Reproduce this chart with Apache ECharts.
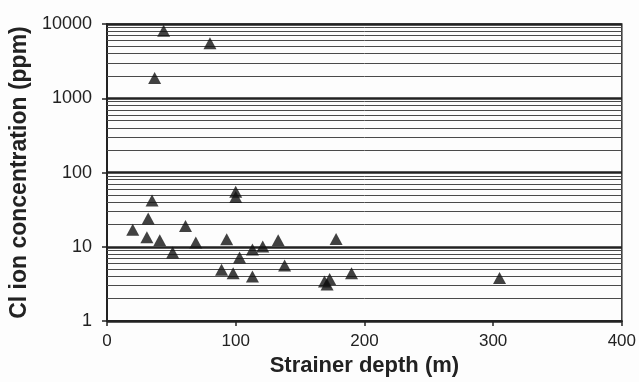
<!DOCTYPE html>
<html>
<head>
<meta charset="utf-8">
<script src="https://cdn.jsdelivr.net/npm/echarts@6/dist/echarts.min.js"></script>
<style>
    html, body { margin: 0; padding: 0; background: #fdfdfd; }
    #chart { width: 639px; height: 382px; }
</style>
</head>
<body>
<div id="chart"></div>
<script>
// strainer depth (m) and Cl concentration (ppm), one triangle per well
var depth = [20, 35, 32, 31, 41, 51, 61, 69, 93, 100, 100, 89, 98, 103, 113, 113, 121, 133, 138,
             178, 169, 173, 171, 190, 305, 44, 80, 37];
var chloride = [17, 42, 24, 13.5, 12.3, 8.4, 19, 11.4, 12.6, 55, 47, 4.9, 4.4, 7.2, 4.0, 9.2, 10.1, 12.3, 5.6,
                12.7, 3.4, 3.7, 3.1, 4.4, 3.8, 8100, 5500, 1870];
// thin log grid lines between the decades
var minorLines = [2, 3, 4, 5, 6, 7, 8, 9,
                  20, 30, 40, 50, 60, 70, 80, 90,
                  200, 300, 400, 500, 600, 700, 800, 900,
                  2000, 3000, 4000, 5000, 6000, 7000, 8000, 9000];
var xTicks = [0, 100, 200, 300, 400];

var points = [];
for (var i = 0; i < depth.length; i++) {
    points.push([depth[i], chloride[i]]);
}
var minorData = [];
for (var j = 0; j < minorLines.length; j++) {
    minorData.push({yAxis: minorLines[j]});
}

var font = 'Liberation Sans, Arial, sans-serif';
var chart = echarts.init(document.getElementById('chart'));
chart.setOption({
    backgroundColor: '#fdfdfd',
    animation: false,
    grid: {
        left: 107, top: 24, width: 515, height: 299,
        show: true, borderColor: '#333', borderWidth: 1.5,
        backgroundColor: 'transparent'
    },
    xAxis: {
        type: 'value',
        min: xTicks[0], max: xTicks[xTicks.length - 1], interval: 100,
        name: 'Strainer depth (m)',
        nameLocation: 'middle', nameGap: 30,
        nameTextStyle: {fontFamily: font, fontSize: 22, fontWeight: 'bold', color: '#222', verticalAlign: 'top'},
        axisLine: {lineStyle: {color: '#222', width: 2}},
        axisTick: {show: true, length: 5, lineStyle: {color: '#222', width: 1.5}},
        axisLabel: {fontFamily: font, fontSize: 17, color: '#222', margin: 12},
        splitLine: {show: false}
    },
    yAxis: {
        type: 'log', logBase: 10,
        min: 1, max: 10000,
        name: 'Cl ion concentration (ppm)',
        nameLocation: 'middle', nameGap: 63,
        nameTextStyle: {fontFamily: font, fontSize: 23, fontWeight: 'bold', color: '#222'},
        axisLine: {show: true, lineStyle: {color: '#222', width: 2}},
        axisTick: {show: true, length: 5, lineStyle: {color: '#222', width: 1.5}},
        axisLabel: {
            fontFamily: font, fontSize: 18, color: '#222', margin: 15,
            formatter: function (v) { return String(Math.round(v)); }
        },
        splitLine: {show: true, lineStyle: {color: '#222', width: 2.5}}
    },
    series: [{
        type: 'scatter',
        data: points,
        symbol: 'triangle',
        symbolSize: [13, 12],
        itemStyle: {color: '#111'},
        z: 5,
        markLine: {
            silent: true,
            symbol: ['none', 'none'],
            label: {show: false},
            lineStyle: {color: '#4a4a4a', width: 1, type: 'solid'},
            data: minorData,
            z: 1
        }
    }]
});
</script>
</body>
</html>
